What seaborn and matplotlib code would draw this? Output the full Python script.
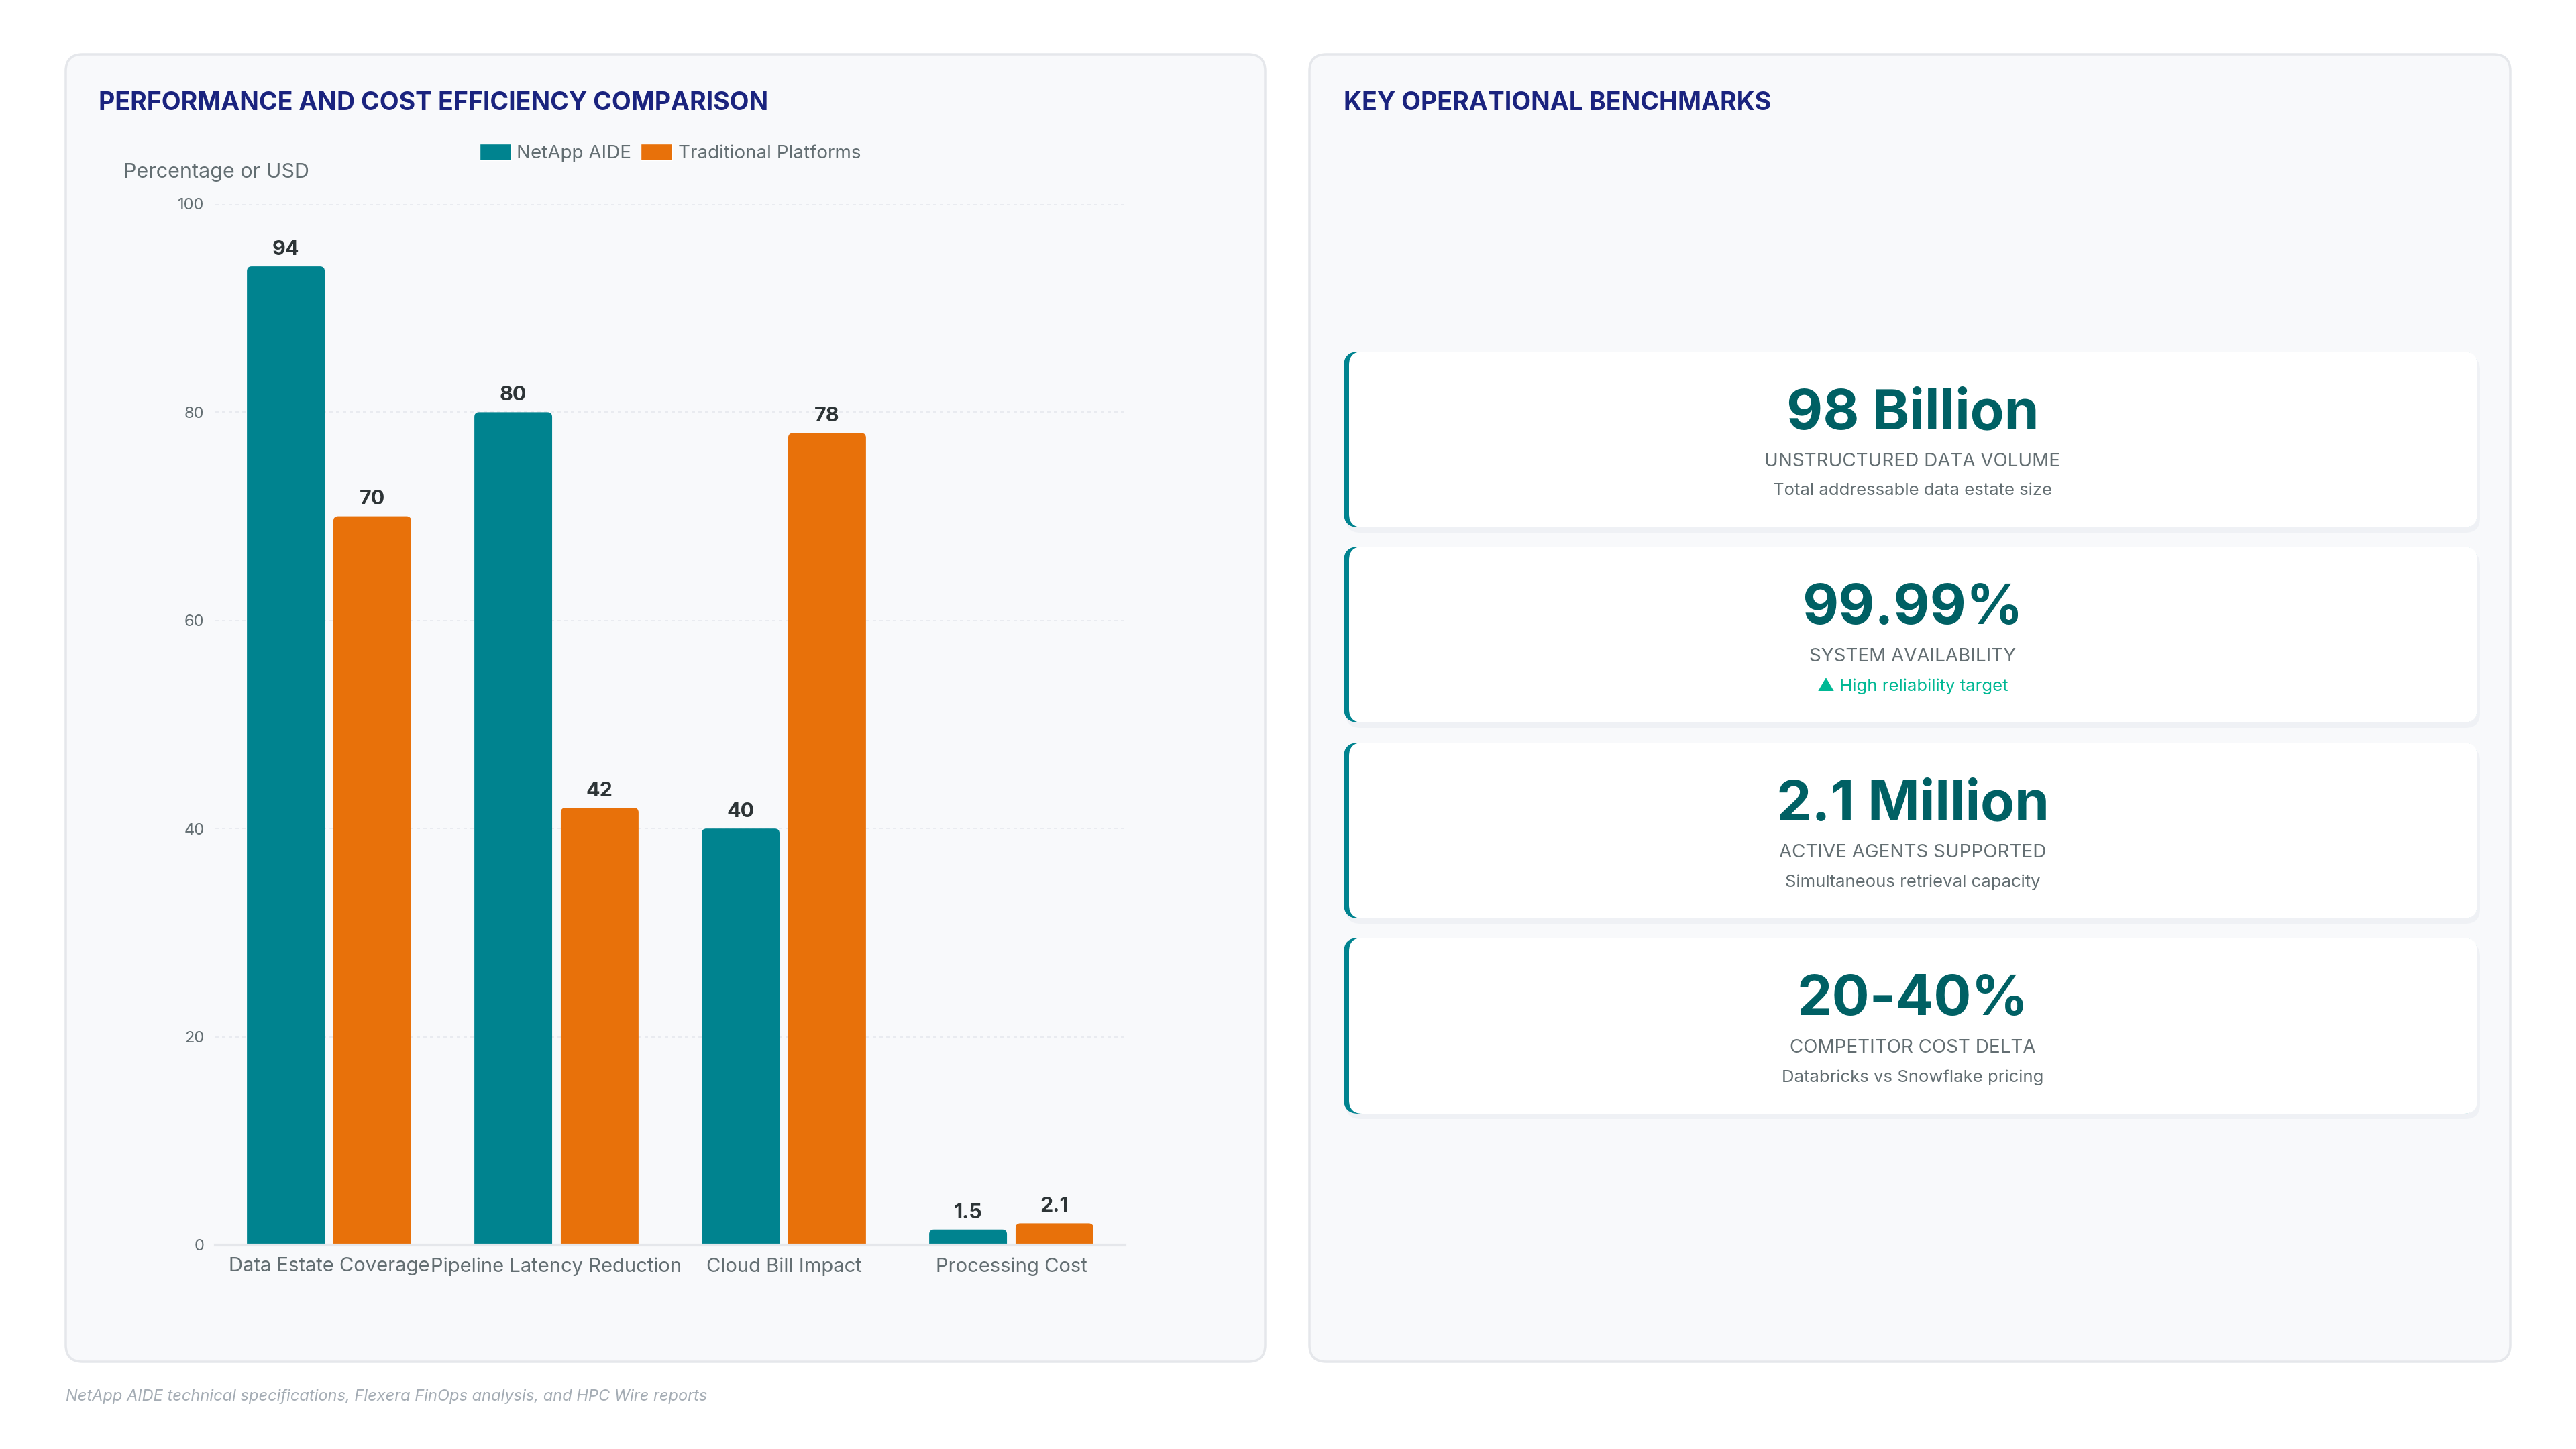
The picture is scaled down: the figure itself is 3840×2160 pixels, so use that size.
import numpy as np
import pandas as pd
import seaborn as sns
import matplotlib.pyplot as plt
from matplotlib.patches import FancyBboxPatch

# Chart data
categories = ['Data Estate Coverage', 'Pipeline Latency Reduction', 'Cloud Bill Impact', 'Processing Cost']
series_names = ['NetApp AIDE', 'Traditional Platforms']
netapp_values = [94, 80, 40, 1.5]
traditional_values = [70, 42, 78, 2.1]
y_ticks = [0, 20, 40, 60, 80, 100]

# Benchmark cards
kpi_values = ['98 Billion', '99.99%', '2.1 Million', '20-40%']
kpi_labels = ['UNSTRUCTURED DATA VOLUME', 'SYSTEM AVAILABILITY', 'ACTIVE AGENTS SUPPORTED', 'COMPETITOR COST DELTA']
kpi_notes = ['Total addressable data estate size', '\u25b2 High reliability target',
             'Simultaneous retrieval capacity', 'Databricks vs Snowflake pricing']
kpi_note_colors = ['#636e72', '#00b894', '#636e72', '#636e72']

TEAL = '#00838f'
ORANGE = '#e8710a'
NAVY = '#1a237e'
GREY = '#636e72'
W, H = 3840, 2160

sns.set_theme(style='white')
plt.rcParams['font.family'] = ['Inter', 'DejaVu Sans']

fig = plt.figure(figsize=(W / 100, H / 100), dpi=100)
fig.patch.set_facecolor('white')


def fx(x):
    return x / W


def fy(y):
    return 1 - y / H


def box(x0, y0, x1, y1, radius, fc, ec='none', lw=0, z=0, alpha=1.0):
    # pixel box (top-left origin) drawn in inches so rounding stays round
    p = FancyBboxPatch((x0 / 100, (H - y1) / 100), (x1 - x0) / 100, (y1 - y0) / 100,
                       boxstyle='round,pad=0,rounding_size=%f' % (radius / 100),
                       transform=fig.dpi_scale_trans, facecolor=fc, edgecolor=ec,
                       linewidth=lw, zorder=z, alpha=alpha)
    fig.patches.append(p)


# Panels
box(98, 81, 1886, 2030, 25, '#f8f9fb', '#e5e7eb', 2.5, z=-2)
box(1952, 81, 3742, 2030, 25, '#f8f9fb', '#e5e7eb', 2.5, z=-2)

fig.text(fx(147), fy(154), 'PERFORMANCE AND COST EFFICIENCY COMPARISON', fontsize=27,
         fontweight='bold', color=NAVY, ha='left', va='center')
fig.text(fx(2003), fy(154), 'KEY OPERATIONAL BENCHMARKS', fontsize=27,
         fontweight='bold', color=NAVY, ha='left', va='center')

# Bar chart
df = pd.DataFrame({
    'Category': categories * 2,
    'Series': [series_names[0]] * len(categories) + [series_names[1]] * len(categories),
    'Value': netapp_values + traditional_values,
})

ax = fig.add_axes([fx(321), fy(1856), (1677 - 321) / W, (1856 - 304) / H])
ax.set_zorder(3)
ax.set_facecolor('none')
sns.barplot(data=df, x='Category', y='Value', hue='Series', order=categories,
            hue_order=series_names, palette=[TEAL, ORANGE], width=0.76, gap=0.1,
            saturation=1, errorbar=None, ax=ax)

for cont in ax.containers:
    ax.bar_label(cont, fmt='%g', padding=8, fontsize=22, fontweight='bold', color='#2d3436')

ax.set_ylim(0, 100)
ax.set_xlim(-0.5, 3.5)
ax.set_yticks(y_ticks)
ax.yaxis.grid(True, color='#e6e9ee', linestyle=(0, (3, 3)), linewidth=1.2)
ax.set_axisbelow(True)
for s in ['top', 'right', 'left']:
    ax.spines[s].set_visible(False)
ax.spines['bottom'].set_color('#e5e7eb')
ax.spines['bottom'].set_linewidth(3)
ax.spines['bottom'].set_zorder(5)
ax.tick_params(axis='x', length=0, pad=13, labelsize=21, labelcolor=GREY)
ax.tick_params(axis='y', length=0, pad=12, labelsize=17, labelcolor=GREY)
ax.set_xlabel('')
ax.set_ylabel('Percentage or USD', rotation=0, ha='left', va='center', fontsize=22, color=GREY)
ax.yaxis.set_label_coords(-0.101, 1.030)

ax.legend(loc='center', bbox_to_anchor=(0.5, 1.049), ncol=2, frameon=False, fontsize=20,
          labelcolor=GREY, handlelength=1.7, handleheight=1.0, handletextpad=0.3,
          columnspacing=0.5)

# round the bar tops: swap each seaborn bar for a rounded box of the same size
bb = ax.get_window_extent()
px_x = bb.width / (ax.get_xlim()[1] - ax.get_xlim()[0])
px_y = bb.height / (ax.get_ylim()[1] - ax.get_ylim()[0])
r = 7 / px_x
aspect = px_x / px_y
for cont in ax.containers:
    for rect in cont:
        x, w, h = rect.get_x(), rect.get_width(), rect.get_height()
        extra = r * aspect
        fb = FancyBboxPatch((x, -extra), w, h + extra,
                            boxstyle='round,pad=0,rounding_size=%f' % r,
                            mutation_aspect=aspect, facecolor=rect.get_facecolor(),
                            edgecolor='none', zorder=rect.get_zorder())
        rect.set_visible(False)
        ax.add_patch(fb)

# KPI cards
card_tops = [524, 815, 1107, 1398]
card_h = 262
for i, top in enumerate(card_tops):
    bot = top + card_h
    box(2006, top + 6, 3697, bot + 8, 22, '#e9edf2', z=1, alpha=0.6)
    box(2003, top, 3693, bot, 22, TEAL, z=2)
    box(2011, top, 3693, bot, 20, 'white', z=3)
    cx = fx(2851)
    fig.text(cx, fy(top + 93), kpi_values[i], fontsize=60, fontweight='bold',
             color='#006064', ha='center', va='center', zorder=4)
    fig.text(cx, fy(top + 164), kpi_labels[i], fontsize=20, color=GREY,
             ha='center', va='center', zorder=4)
    fig.text(cx, fy(top + 208), kpi_notes[i], fontsize=18.5, color=kpi_note_colors[i],
             ha='center', va='center', zorder=4, family=['Inter', 'DejaVu Sans'])

fig.text(fx(98), fy(2082), 'NetApp AIDE technical specifications, Flexera FinOps analysis, and HPC Wire reports',
         fontsize=17, style='italic', color='#a4acb4', ha='left', va='center')

fig.savefig('out.png', dpi=100, facecolor='white')
